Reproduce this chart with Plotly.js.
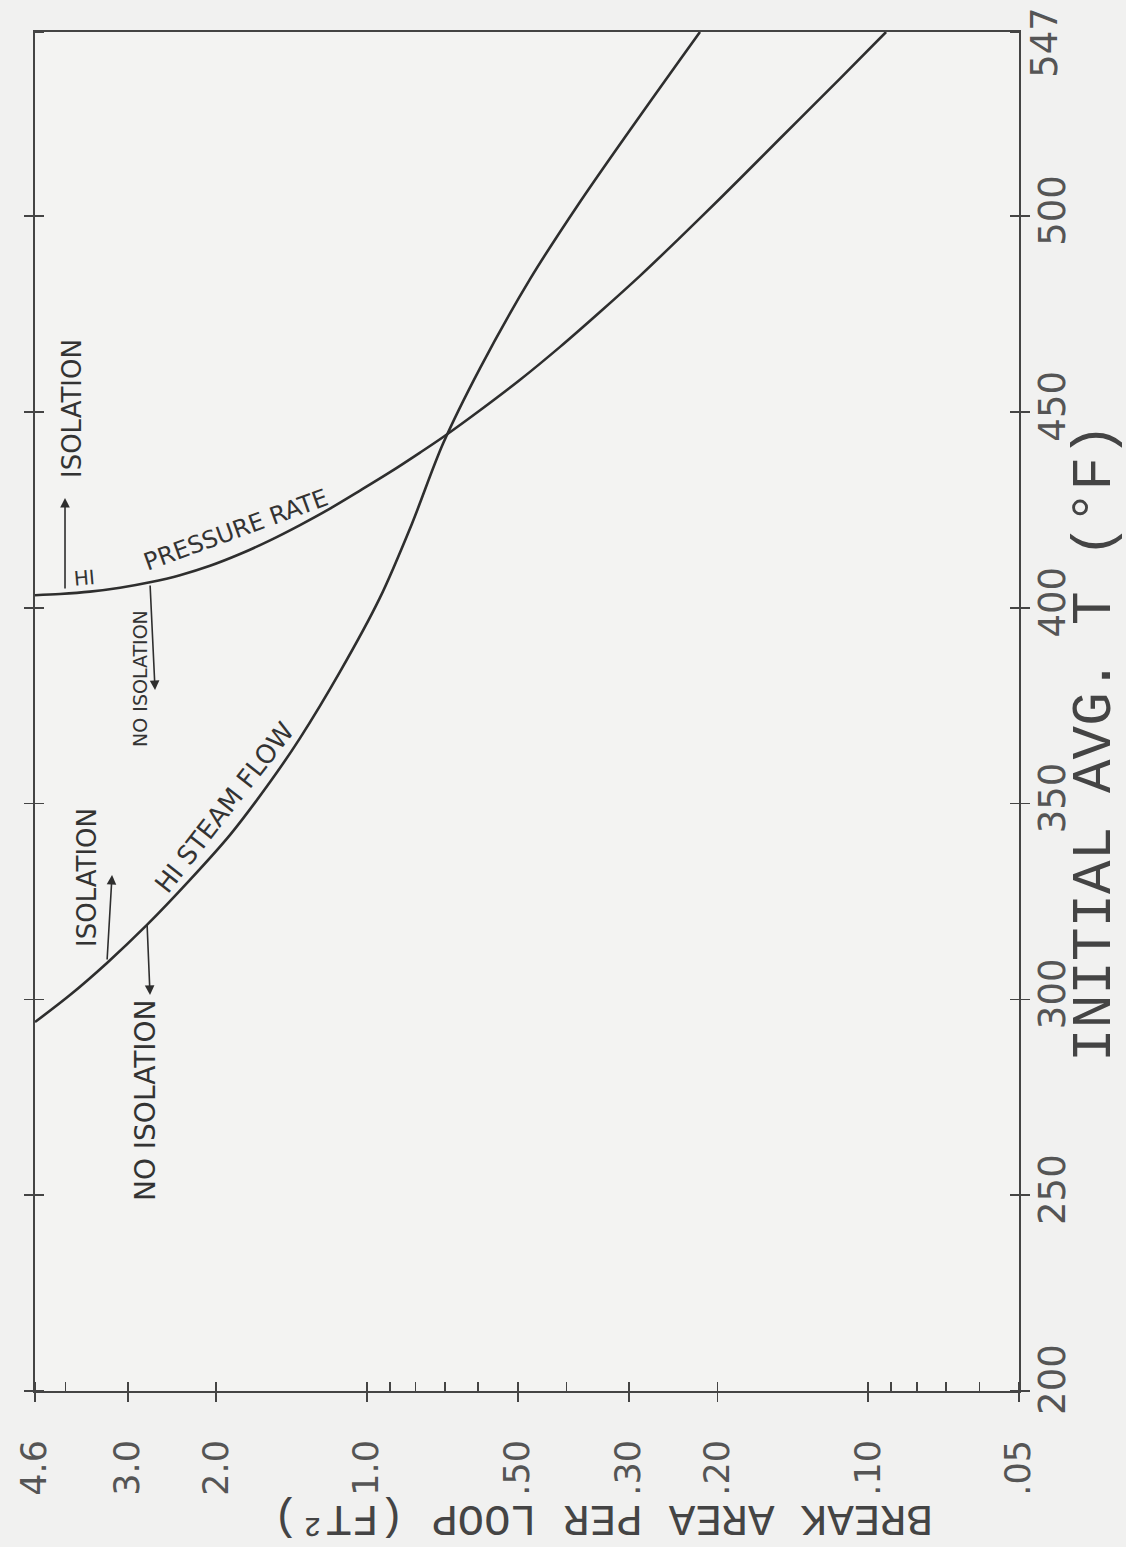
<!DOCTYPE html>
<html>
<head>
<meta charset="utf-8">
<script src="https://cdn.plot.ly/plotly-3.0.1.min.js"></script>
<style>
  html, body { margin: 0; padding: 0; background: #f1f1f0; }
  #chart { width: 1126px; height: 1547px; }
</style>
</head>
<body>
<div id="chart"></div>
<script>
// ---- data ----
// HI PRESSURE RATE boundary: break area per loop (ft^2) vs initial avg T (F)
const pressureArea = [4.60, 4.10, 3.573, 3.112, 2.713, 2.363, 2.058, 1.793, 1.562, 1.361, 1.186, 1.033, 0.900, 0.784, 0.699, 0.595, 0.495, 0.412, 0.343, 0.285, 0.2374, 0.1975, 0.1643, 0.1368, 0.1138, 0.0921];
const pressureTemp = [403.2, 403.5, 404.1, 405.1, 406.5, 408.3, 410.7, 413.7, 417.2, 421.1, 425.3, 429.9, 434.6, 439.6, 443.9, 450.4, 458.2, 466.6, 475.5, 484.8, 494.5, 504.5, 514.7, 524.9, 535.1, 547];
// HI STEAM FLOW boundary
const steamArea = [4.60, 3.917, 3.304, 2.750, 2.257, 1.877, 1.562, 1.361, 1.133, 0.943, 0.814, 0.706, 0.595, 0.473, 0.376, 0.2987, 0.2374, 0.2166];
const steamTemp = [294.2, 301.1, 309.3, 319.0, 330.5, 342.0, 355.5, 366.7, 383.6, 402.5, 421.4, 441.8, 461.2, 483.9, 503.6, 522.0, 539.9, 547];

// axis ticks
const areaTickVals = [4.6, 4, 3, 2, 1, 0.9, 0.8, 0.7, 0.6, 0.5, 0.4, 0.3, 0.2, 0.1, 0.09, 0.08, 0.07, 0.06, 0.05];
const areaTickText = ['4.6', '', '3.0', '2.0', '1.0', '', '', '', '', '.50', '', '.30', '.20', '.10', '', '', '', '', '.05'];
const tempTickVals = [200, 250, 300, 350, 400, 450, 500, 547];
const tempTickText = ['\u00a0200', '250', '300', '350', '400', '450', '500', ''];
const tempTopVals = [547];
const tempTopText = ['547'];
const tempRange = [200, 547];

const ink = '#2e2e2e';
const lineStyle = { color: ink, width: 2.6, shape: 'spline', smoothing: 0.9 };

const traces = [
  { x: pressureArea, y: pressureTemp, yaxis: 'y2', type: 'scatter', mode: 'lines', line: lineStyle, name: 'HI PRESSURE RATE' },
  { x: steamArea, y: steamTemp, type: 'scatter', mode: 'lines', line: lineStyle, name: 'HI STEAM FLOW' }
];

const txt = (size, fam) => ({ family: fam || 'DejaVu Sans, sans-serif', size: size, color: '#333' });
const label = (text, x, y, angle, size) => ({ text: text, xref: 'paper', yref: 'paper', x: x, y: y,
  xanchor: 'center', yanchor: 'middle', showarrow: false, textangle: angle, font: txt(size) });
const arrow = (x, y, ax, ay) => ({ text: '', xref: 'paper', yref: 'paper', x: x, y: y, ax: ax, ay: ay,
  showarrow: true, arrowhead: 2, arrowsize: 1.2, arrowwidth: 1.6, arrowcolor: ink });

const annotations = [
  label('HI', 0.0498, 0.598, -5, 20),
  label('PRESSURE RATE', 0.2043, 0.6336, -20, 24),
  label('ISOLATION', 0.0376, 0.7233, -90, 26),
  arrow(0.0305, 0.6571, 0, 92),
  label('NO ISOLATION', 0.1067, 0.5247, -90, 19),
  arrow(0.122, 0.5158, -5, -106),
  label('ISOLATION', 0.0528, 0.3782, -90, 26),
  arrow(0.0783, 0.3797, -5, 86),
  label('NO ISOLATION', 0.1118, 0.2141, -90, 28),
  arrow(0.1169, 0.2914, -3, -72),
  label('HI STEAM FLOW', 0.1921, 0.429, -52, 26),
  { text: 'INITIAL AVG. T (°F)', xref: 'paper', yref: 'paper', x: 1.0772, y: 0.4776, xanchor: 'center', yanchor: 'middle',
    showarrow: false, textangle: -90, font: { family: 'Liberation Mono, monospace', size: 56, color: '#444' } },
  { text: 'BREAK AREA PER LOOP (FT²)', xref: 'paper', yref: 'paper', x: 0.5772, y: -0.0935, xanchor: 'center', yanchor: 'middle',
    showarrow: false, textangle: 180, font: { family: 'Liberation Mono, monospace', size: 44, color: '#444' } }
];

const tickFontY = { family: 'DejaVu Sans, sans-serif', size: 37, color: '#555' };

const layout = {
  width: 1126, height: 1547,
  margin: { l: 35, r: 107, t: 32, b: 156, pad: 0 },
  paper_bgcolor: '#f1f1f0', plot_bgcolor: '#f3f3f2',
  showlegend: false,
  xaxis: {
    type: 'log',
    range: [Math.log10(4.6), Math.log10(0.05)],
    tickmode: 'array', tickvals: areaTickVals, ticktext: areaTickText,
    ticks: 'outside', ticklen: 9, tickwidth: 1.6, tickcolor: '#444',
    minor: { tickmode: 'array', tickvals: areaTickVals, ticks: 'inside', ticklen: 9, tickwidth: 1.6, tickcolor: '#444' },
    tickangle: -90, ticklabelstandoff: 24,
    tickfont: { family: 'DejaVu Sans, sans-serif', size: 35, color: '#555' },
    showline: true, linecolor: '#444', linewidth: 2, mirror: true,
    showgrid: false, zeroline: false
  },
  yaxis: {
    side: 'right',
    range: tempRange,
    tickmode: 'array', tickvals: tempTickVals, ticktext: tempTickText,
    ticks: 'outside', ticklen: 9, tickwidth: 1.6, tickcolor: '#444',
    minor: { tickmode: 'array', tickvals: tempTickVals, ticks: 'inside', ticklen: 9, tickwidth: 1.6, tickcolor: '#444' },
    tickangle: -90, ticklabelstandoff: -9, ticklabeloverflow: 'allow',
    tickfont: tickFontY,
    showline: true, linecolor: '#444', linewidth: 2, mirror: 'ticks',
    showgrid: false, zeroline: false
  },
  yaxis2: {
    overlaying: 'y', side: 'right', anchor: 'x',
    range: tempRange,
    tickmode: 'array', tickvals: tempTopVals, ticktext: tempTopText,
    ticks: '', showline: false, showgrid: false, zeroline: false,
    tickangle: -90, ticklabelstandoff: 0, ticklabelshift: 16, ticklabeloverflow: 'allow',
    tickfont: tickFontY
  },
  annotations: annotations
};

Plotly.newPlot('chart', traces, layout, { displayModeBar: false, staticPlot: true });
</script>
</body>
</html>
